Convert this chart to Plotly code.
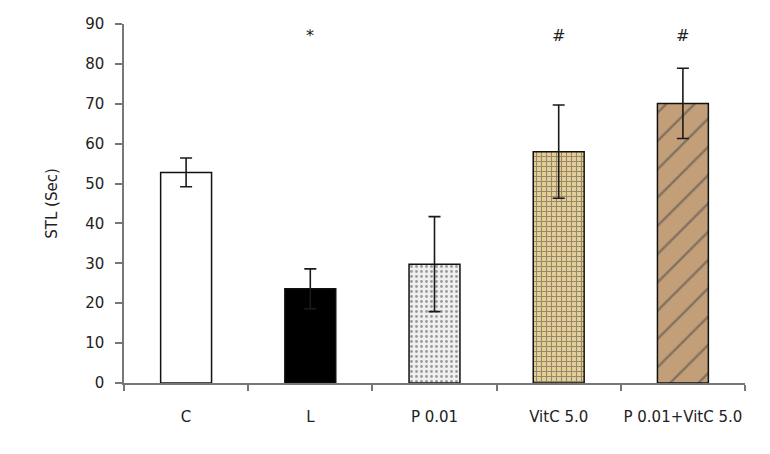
import plotly.graph_objects as go

categories = ["C", "L", "P 0.01", "VitC 5.0", "P 0.01+VitC 5.0"]
stl_mean = [52.8, 23.6, 29.8, 58.0, 70.1]
stl_err = [3.6, 5.0, 11.9, 11.7, 8.8]
sig_marks = ["", "*", "", "#", "#"]
sig_y = [87, 87, 87, 87, 87]
y_ticks = [0, 10, 20, 30, 40, 50, 60, 70, 80, 90]

fills = ["#ffffff", "#000000", "#f0f0f0", "#e6cf96", "#c29f78"]
pat_shapes = ["", "", ".", "+", "/"]
pat_fg = ["#ffffff", "#000000", "#d0d0d0", "#7a5a28", "#ad8963"]
pat_size = [8, 8, 5, 5, 20]
pat_sol = [0.3, 0.3, 0.25, 0.4, 0.12]

font_family = "DejaVu Sans, sans-serif"

fig = go.Figure()
fig.add_trace(go.Bar(
    x=categories,
    y=stl_mean,
    marker=dict(
        color=fills,
        line=dict(color="#111111", width=1.5),
        pattern=dict(shape=pat_shapes, fgcolor=pat_fg, bgcolor=fills,
                     size=pat_size, solidity=pat_sol),
    ),
    error_y=dict(type="data", array=stl_err, visible=True,
                 color="#1a1a1a", thickness=1.6, width=6),
    showlegend=False,
))

for c, m, yy in zip(categories, sig_marks, sig_y):
    if m:
        fig.add_annotation(x=c, y=yy, text=m, showarrow=False,
                           font=dict(size=16, color="#222222", family=font_family))

fig.update_layout(
    width=770, height=454,
    margin=dict(l=124, r=25, t=24, b=71),
    paper_bgcolor="white", plot_bgcolor="white",
    bargap=0.59,
    font=dict(family=font_family, size=14, color="#222222"),
)
fig.update_xaxes(
    showline=True, linecolor="#777777", linewidth=1.5,
    ticks="outside", tickson="boundaries", ticklen=6, tickcolor="#777777",
    tickwidth=1.5, ticklabelstandoff=19, tickangle=0, automargin=False,
    tickfont=dict(size=15, color="#222222"),
    showgrid=False, zeroline=False,
)
fig.update_yaxes(
    range=[0, 90], tickvals=y_ticks,
    showline=True, linecolor="#777777", linewidth=1.5,
    ticks="outside", ticklen=7, tickcolor="#777777", tickwidth=1.5,
    ticklabelstandoff=8, automargin=False,
    tickfont=dict(size=15, color="#222222"),
    showgrid=False, zeroline=False,
    title=dict(text="STL (Sec)", standoff=24, font=dict(size=15, color="#222222")),
)

fig.write_html("out.html", post_script="document.body.style.margin='0';",
               config={"displayModeBar": False})
